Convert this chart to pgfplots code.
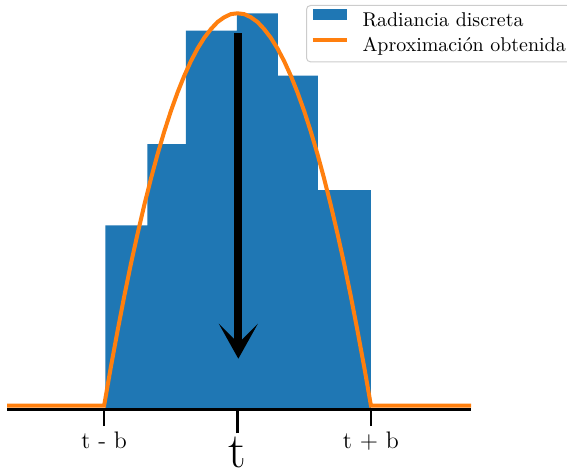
\documentclass[border=0pt]{standalone}
\usepackage{pgfplots}
\pgfplotsset{compat=1.18}
\usetikzlibrary{arrows.meta}
\definecolor{barblue}{RGB}{31,119,180}
\definecolor{fitorange}{RGB}{255,127,14}
\begin{document}
\begin{tikzpicture}
\useasboundingbox (0,0) rectangle (283.5bp,237bp);
\clip (0,0) rectangle (283.5bp,237bp);
\begin{axis}[
  at={(3.6bp,32.2bp)}, anchor=south west,
  scale only axis, width=232bp, height=204.8bp,
  xmin=-1.727, xmax=1.752, ymin=0, ymax=1.0336,
  axis x line=bottom, axis y line=none,
  x axis line style={-, line width=1.2bp, black},
  ytick=\empty,
  xtick={-1,1}, xticklabels={t - b, t + b},
  xtick align=outside,
  major tick length=8.2bp,
  xtick style={line width=1.3bp, black},
  xticklabel style={font=\large, inner sep=0pt, anchor=north},
  xticklabel shift=2.85bp,
  extra x ticks={0}, extra x tick labels={t},
  extra x tick style={major tick length=11.85bp, xticklabel shift=1.5bp,
    xticklabel style={font=\Huge}},
  axis on top,
  legend cell align=left,
  legend style={at={(0.644,0.9878)}, anchor=north west,
    draw=black!20, line width=0.5bp, rounded corners=2bp, fill=white,
    font=\normalsize, inner xsep=2bp, inner ysep=1.6bp,
    row sep=0pt, column sep=0pt,
    nodes={inner xsep=7bp, inner ysep=1.75bp, text height=7bp, text depth=2bp}},
]
% histogram of the discrete radiance samples
\addplot[ybar interval, fill=barblue, draw=none,
  legend image code/.code={\fill[barblue, sharp corners] (0bp,0.35bp) rectangle (17bp,6.2bp);}]
  coordinates {(-0.99,0.465) (-0.676,0.670) (-0.388,0.956) (-0.005,1.000)
               (0.302,0.843) (0.602,0.554) (1.0,0.554)};
\addlegendentry{Radiancia discreta}
% fitted approximation
\addplot[fitorange, line width=2bp,
  legend image code/.code={\draw[fitorange, line width=2bp, sharp corners] (0bp,2.85bp) -- (17bp,2.85bp);}]
  coordinates {(-1.727,0.0103) (-1,0.0103) (-0.975,0.059) (-0.95,0.107) (-0.9,0.198)
    (-0.85,0.285) (-0.8,0.367) (-0.75,0.443) (-0.7,0.515) (-0.65,0.582) (-0.6,0.644)
    (-0.55,0.701) (-0.5,0.753) (-0.45,0.800) (-0.4,0.842) (-0.35,0.879) (-0.3,0.911)
    (-0.25,0.938) (-0.2,0.960) (-0.15,0.978) (-0.1,0.990) (-0.05,0.998) (0,1.000)
    (0.05,0.998) (0.1,0.990) (0.15,0.978) (0.2,0.960) (0.25,0.938) (0.3,0.911)
    (0.35,0.879) (0.4,0.842) (0.45,0.800) (0.5,0.753) (0.55,0.701) (0.6,0.644)
    (0.65,0.582) (0.7,0.515) (0.75,0.443) (0.8,0.367) (0.85,0.285) (0.9,0.198)
    (0.95,0.107) (0.975,0.059) (1,0.0103) (1.752,0.0103)};
\addlegendentry{Aproximación obtenida}
% arrow pointing down at t
\addplot[forget plot, black, line width=4bp,
  -{Stealth[length=17.5bp, width=19.5bp, inset=9.75bp]}]
  coordinates {(0.006,0.9495) (0.006,0.1284)};
\end{axis}
\end{tikzpicture}
\end{document}
